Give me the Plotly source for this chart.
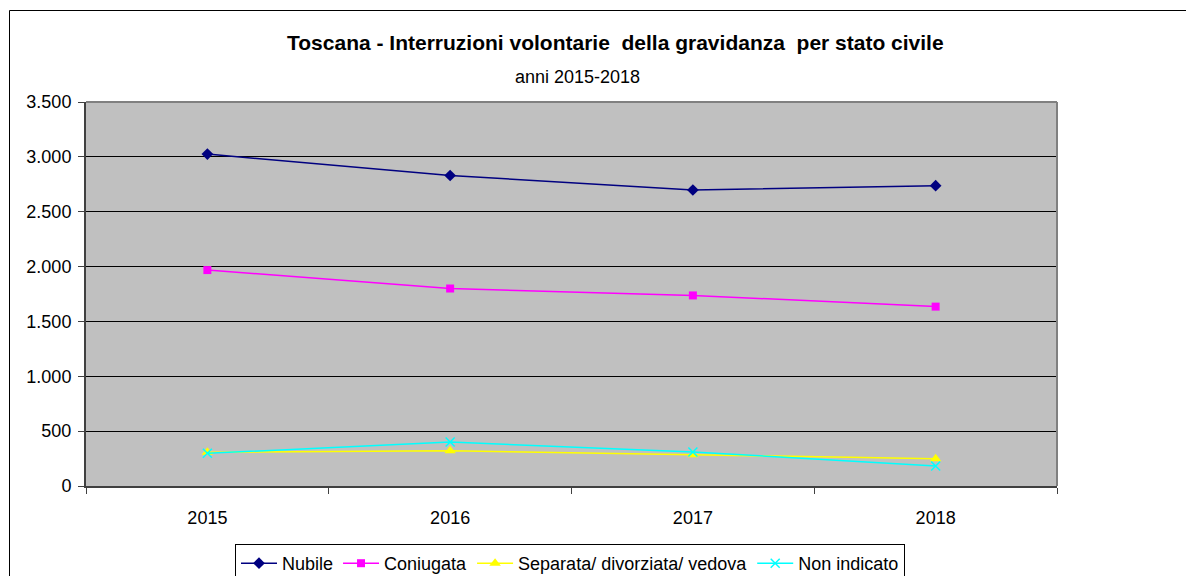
import plotly.graph_objects as go

years = [2015, 2016, 2017, 2018]
nubile = [3025, 2830, 2698, 2737]
coniugata = [1968, 1800, 1737, 1635]
separata = [307, 322, 285, 249]
non_indicato = [298, 401, 310, 183]

series = [
    ("Nubile", nubile, "#000080", "diamond", 9),
    ("Coniugata", coniugata, "#FF00FF", "square", 8),
    ("Separata/ divorziata/ vedova", separata, "#FFFF00", "triangle-up", 10),
    ("Non indicato", non_indicato, "#00FFFF", "x-thin", 9),
]

# page body has an 8px margin; screen positions below are compensated
OFF = 8
W, H = 1194 - OFF, 576 - OFF
L, R, T, B = 86 - OFF, 1057 - OFF, 102 - OFF, 486 - OFF
pw, ph = R - L, B - T


def px(x):
    return (x - OFF - L) / pw


def py(y):
    return (B - (y - OFF)) / ph


fig = go.Figure()
for name, vals, color, sym, size in series:
    marker = dict(symbol=sym, size=size, color=color)
    if sym == "x-thin":
        marker["line"] = dict(color=color, width=1.5)
    fig.add_trace(go.Scatter(
        x=years, y=vals, name=name, mode="lines+markers",
        line=dict(color=color, width=1.5), marker=marker,
    ))

font = "Arial, Liberation Sans, sans-serif"
FS = 18

fig.update_layout(
    width=W, height=H,
    margin=dict(l=L, r=W - R, t=T, b=H - B, autoexpand=False),
    paper_bgcolor="white",
    plot_bgcolor="#C0C0C0",
    separators=",.",
    font=dict(family=font, size=FS, color="black"),
    showlegend=True,
    legend=dict(
        orientation="h", x=px(570), xanchor="center", y=py(544), yanchor="top",
        bordercolor="black", borderwidth=1, bgcolor="white",
        font=dict(family=font, size=FS, color="black"),
        itemwidth=36, tracegroupgap=0,
    ),
    xaxis=dict(
        range=[2014.5, 2018.5], tickmode="array", tickvals=years,
        ticktext=[str(y) for y in years],
        ticks="outside", ticklen=14, tickcolor="rgba(0,0,0,0)",
        showgrid=False, zeroline=False,
        showline=True, linecolor="#404040", linewidth=2,
        minor=dict(tickmode="array", tickvals=[2014.5, 2015.5, 2016.5, 2017.5, 2018.5],
                   ticks="outside", ticklen=6, tickcolor="#404040", tickwidth=1,
                   showgrid=False),
        tickfont=dict(family=font, size=FS, color="black"),
    ),
    yaxis=dict(
        range=[0, 3500], tickmode="array", tickvals=[0, 500, 1000, 1500, 2000, 2500, 3000, 3500],
        tickformat=",d", ticks="outside", ticklen=6, tickcolor="#404040",
        ticklabelstandoff=3,
        showgrid=True, gridcolor="black", gridwidth=1, zeroline=False,
        showline=True, linecolor="#404040", linewidth=2,
        tickfont=dict(family=font, size=FS, color="black"),
    ),
    shapes=[
        dict(type="line", xref="paper", yref="paper", x0=0, x1=1, y0=1, y1=1,
             line=dict(color="#808080", width=2)),
        dict(type="line", xref="paper", yref="paper", x0=1, x1=1, y0=0, y1=1,
             line=dict(color="#808080", width=2)),
        dict(type="rect", xref="paper", yref="paper",
             x0=px(9.5), x1=px(1230), y0=py(10.5), y1=py(620),
             line=dict(color="black", width=1), layer="below"),
    ],
    annotations=[
        dict(text="<b>Toscana - Interruzioni volontarie  della gravidanza  per stato civile</b>",
             xref="paper", yref="paper", x=px(615), y=py(42), xanchor="center", yanchor="middle",
             showarrow=False, font=dict(family=font, size=21, color="black")),
        dict(text="anni 2015-2018", xref="paper", yref="paper", x=px(577), y=py(77),
             xanchor="center", yanchor="middle", showarrow=False,
             font=dict(family=font, size=FS, color="black")),
    ],
)

fig.write_html("out.html")
